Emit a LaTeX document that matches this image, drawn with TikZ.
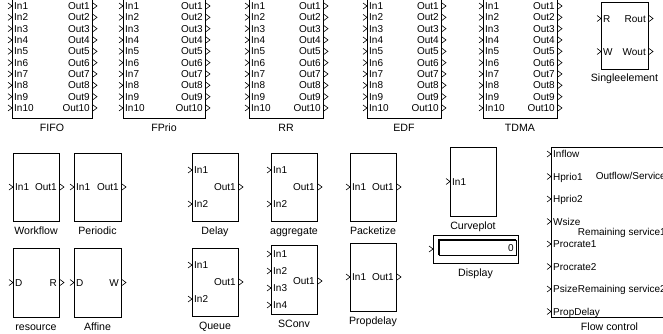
\documentclass[tikz,border=0pt]{standalone}
\usepackage{fontspec}
\setmainfont{Liberation Sans}
\usetikzlibrary{calc}
\newcounter{pl}
\tikzset{
 block/.style={draw, line width=0.9pt, inner sep=0pt, outer sep=0pt, rectangle},
 chev/.style={line width=0.6pt, line join=miter},
 plbl/.style={inner sep=0pt, font=\fontsize{10}{12}\selectfont},
 blbl/.style={inner sep=0pt, anchor=base, font=\fontsize{10.6}{12}\selectfont},
}
% block: name L T R B label
\newcommand\blk[6]{%
 \pgfmathsetmacro\bw{#4-#2}\pgfmathsetmacro\bh{#5-#3}%
 \pgfmathsetmacro\bx{(#2+#4)/2}\pgfmathsetmacro\by{(#3+#5)/2}%
 \node[block, minimum width=\bw pt, minimum height=\bh pt] (#1) at (\bx,\by) {};
 \node[blbl] (#1-name) at (\bx,{#5+13}) {#6};}
% input port: x (box left edge) y text
\newcommand\pin[3]{%
 \stepcounter{pl}%
 \draw[chev] ({#1-4},{#2-3}) -- (#1,#2) -- ({#1-4},{#2+3});
 \node[plbl,anchor=base west] (pl\arabic{pl}) at ({#1+2},{#2+3.6}) {#3};}
% output port: x (box right edge) y text
\newcommand\pout[3]{%
 \stepcounter{pl}%
 \draw[chev] ({#1+1},{#2-3}) -- ({#1+5},#2) -- ({#1+1},{#2+3});
 \node[plbl,anchor=base east] (pl\arabic{pl}) at ({#1-2},{#2+3.6}) {#3};}
\newcommand\plab[3]{%
 \stepcounter{pl}%
 \node[plbl,anchor=base east] (pl\arabic{pl}) at ({#1-2},{#2+3.6}) {#3};}
\begin{document}
\begin{tikzpicture}[x=1pt,y=-1pt]
\useasboundingbox (0,0) rectangle (663,334);
\fill[white] (0,0) rectangle (663,334);
\clip (0,0) rectangle (663,334);

% ---- row 1: ten-port schedulers
\blk{fifo}{12}{-5}{92}{118}{FIFO}
\blk{fprio}{123}{-5}{205}{118}{FPrio}
\blk{rr}{249}{-5}{323}{118}{RR}
\blk{edf}{367}{-5}{441}{118}{EDF}
\blk{tdma}{483}{-5}{557}{118}{TDMA}
\foreach \L/\R in {12/92,123/205,249/323,367/441,483/557}{
 \foreach \k in {1,...,10}{
  \pgfmathsetmacro\yy{6+11.33*(\k-1)}
  \pin{\L}{\yy}{In\k}
  \pout{\R}{\yy}{Out\k}
 }
}
\blk{single}{601}{2}{648}{69}{Singleelement}
\pin{601}{18.5}{R}\pout{648}{18.5}{Rout}
\pin{601}{51.5}{W}\pout{648}{51.5}{Wout}

% ---- row 2
\blk{workflow}{13}{153}{59}{221}{Workflow}
\pin{13}{187}{In1}\pout{59}{187}{Out1}
\blk{periodic}{74}{153}{121}{221}{Periodic}
\pin{74}{187}{In1}\pout{121}{187}{Out1}
\blk{delay}{192}{153}{238}{221}{Delay}
\pin{192}{170}{In1}\pin{192}{204}{In2}\pout{238}{187}{Out1}
\blk{aggregate}{271}{153}{317}{221}{aggregate}
\pin{271}{170}{In1}\pin{271}{204}{In2}\pout{317}{187}{Out1}
\blk{packetize}{350}{153}{396}{221}{Packetize}
\pin{350}{187}{In1}\pout{396}{187}{Out1}
\blk{curveplot}{450}{147}{496}{216}{Curveplot}
\pin{450}{181.5}{In1}

% display
\node[block, minimum width=85pt, minimum height=28pt] (disp) at (475.5,249) {};
\node[draw, line width=0.6pt, inner sep=0pt, minimum width=77pt, minimum height=15pt] (dispf) at (477.5,247.5) {};
\draw[line width=1.1pt] (dispf.south west) -- (dispf.north west) -- (dispf.north east);
\node[plbl, anchor=base east] (dispv) at (514,251.5) {0};
\draw[chev] (429,246) -- (433,249) -- (429,252);
\node[blbl] (disp-name) at (475.5,276) {Display};

% flow control
\blk{flow}{551}{147}{668}{317}{Flow control}
\foreach \t [count=\i] in {Inflow,Hprio1,Hprio2,Wsize,Procrate1,Procrate2,Psize,PropDelay}{
 \pgfmathsetmacro\yy{154+22.5*(\i-1)}
 \pin{551}{\yy}{\t}
}
\plab{668}{176}{Outflow/Service}
\plab{668}{231.5}{Remaining service1}
\plab{668}{288.5}{Remaining service2}

% ---- row 3
\blk{resource}{13}{248}{59}{317}{resource}
\pin{13}{282.5}{D}\pout{59}{282.5}{R}
\blk{affine}{74}{248}{121}{317}{Affine}
\pin{74}{282.5}{D}\pout{121}{282.5}{W}
\blk{queue}{192}{248}{238}{316}{Queue}
\pin{192}{265}{In1}\pin{192}{299}{In2}\pout{238}{282}{Out1}
\blk{sconv}{271}{245}{317}{314}{SConv}
\pin{271}{254}{In1}\pin{271}{271}{In2}\pin{271}{288}{In3}\pin{271}{305}{In4}
\pout{317}{281}{Out1}
\blk{propdelay}{350}{243}{396}{311}{Propdelay}
\pin{350}{277}{In1}\pout{396}{277}{Out1}
\end{tikzpicture}
\end{document}
